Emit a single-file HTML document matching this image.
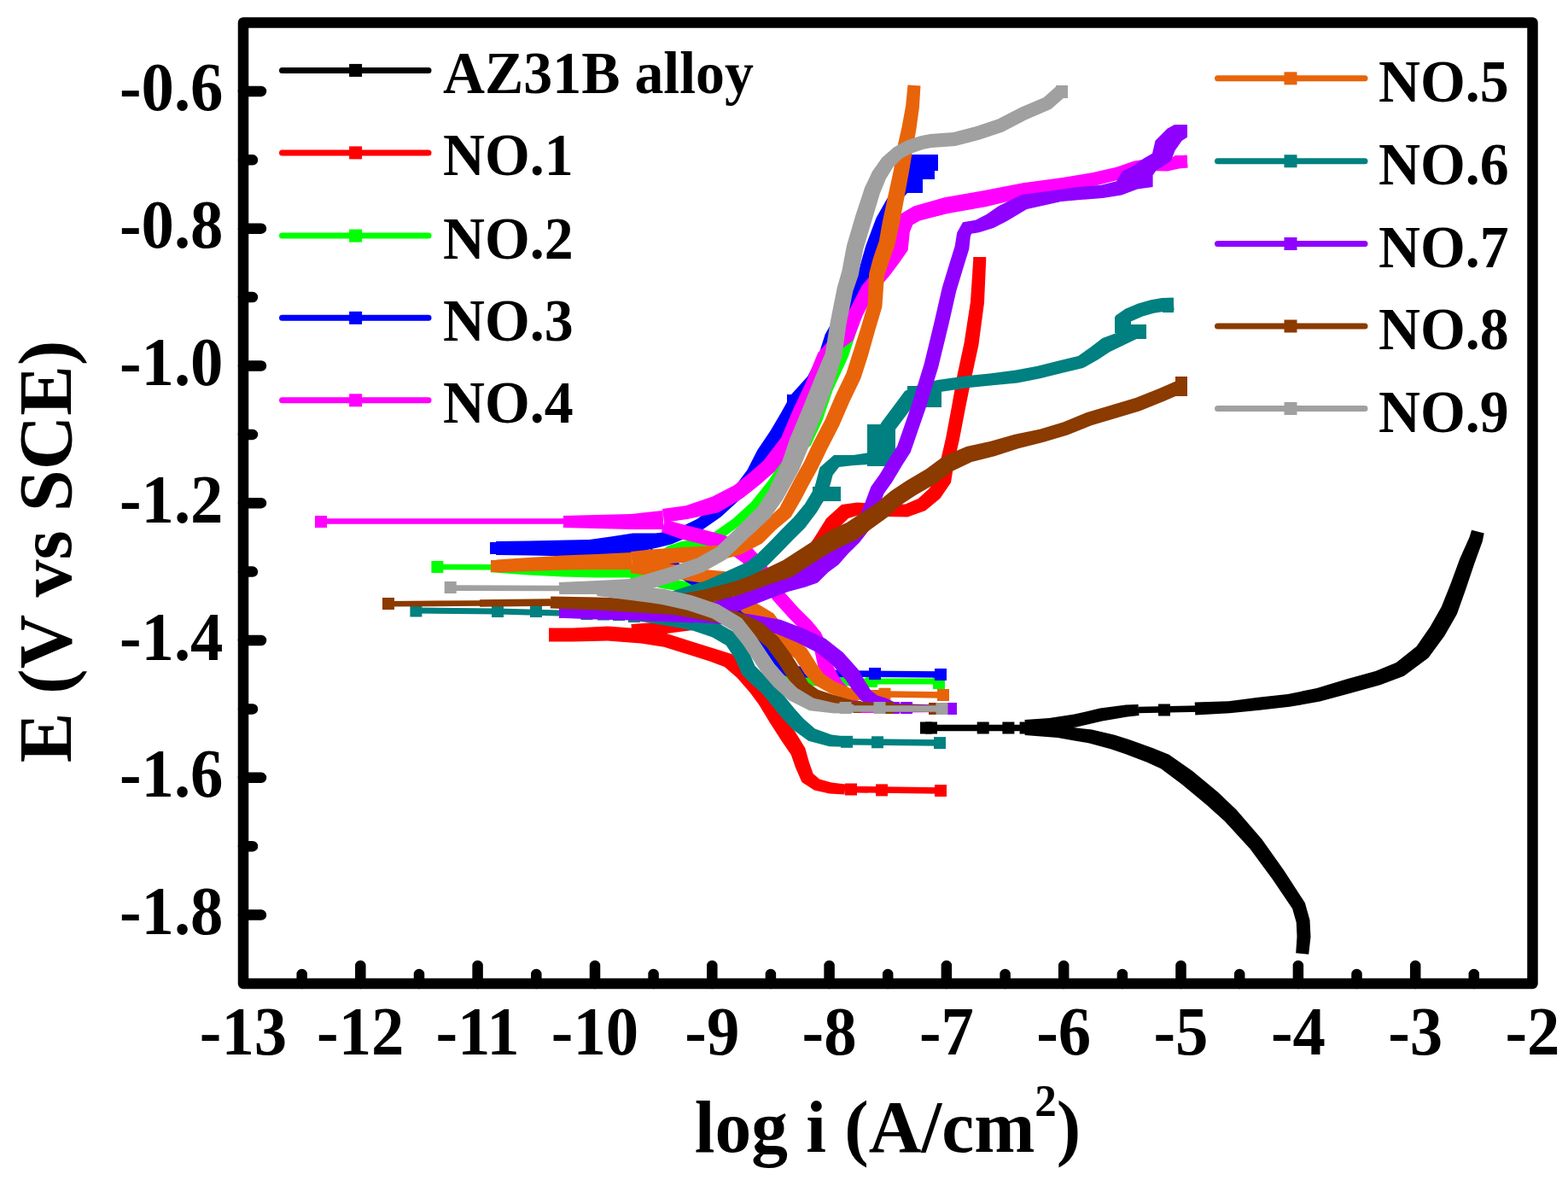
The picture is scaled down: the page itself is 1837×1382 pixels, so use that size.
<!DOCTYPE html>
<html><head><meta charset="utf-8"><title>Tafel plot</title>
<style>html,body{margin:0;padding:0;background:#fff;} svg{display:block;}</style>
</head><body>
<svg width="1837" height="1382" viewBox="0 0 1837 1382">
<rect x="0" y="0" width="1837" height="1382" fill="#fff"/>
<path d="M1085.0,852.5 L1211.0,852.5" fill="none" stroke="#000000" stroke-width="7.5" stroke-linejoin="round"/>
<rect x="1078.0" y="845.5" width="14" height="14" fill="#000000"/>
<rect x="1084.0" y="845.5" width="14" height="14" fill="#000000"/>
<rect x="1144.7" y="845.5" width="14" height="14" fill="#000000"/>
<rect x="1174.4" y="845.5" width="14" height="14" fill="#000000"/>
<rect x="1194.6" y="845.5" width="14" height="14" fill="#000000"/>
<path d="M1201.5,857.0 L1230.7,855.0 L1261.4,851.4 L1291.4,844.4 L1320.8,839.5 L1334.5,838.0 L1333.5,825.0 L1319.2,825.5 L1288.6,829.6 L1258.6,836.6 L1229.3,841.0 L1200.5,843.0 Z" fill="#000000"/>
<path d="M1334.0,831.5 L1406.0,830.0" fill="none" stroke="#000000" stroke-width="7.5" stroke-linejoin="round"/>
<rect x="1357.0" y="824.5" width="14" height="14" fill="#000000"/>
<path d="M1400.3,837.5 L1440.6,835.2 L1475.6,831.7 L1510.8,827.8 L1546.4,821.6 L1581.7,812.0 L1616.9,802.3 L1644.8,791.7 L1673.4,770.5 L1692.3,744.8 L1706.9,719.3 L1717.2,690.3 L1727.1,660.7 L1736.8,633.9 L1738.7,624.4 L1724.1,620.8 L1721.6,628.9 L1710.3,654.3 L1699.4,683.9 L1688.7,710.7 L1675.5,734.0 L1659.6,757.1 L1635.8,775.9 L1611.5,786.1 L1577.1,795.6 L1542.6,806.0 L1508.6,813.0 L1474.0,816.7 L1439.4,821.2 L1399.7,822.5 Z" fill="#000000"/>
<path d="M1200.6,861.0 L1239.1,864.0 L1258.8,867.4 L1276.2,870.4 L1301.1,877.2 L1318.1,883.0 L1343.7,892.8 L1360.1,900.3 L1384.5,918.5 L1413.4,942.5 L1434.8,961.7 L1464.4,994.1 L1490.6,1029.5 L1514.1,1064.2 L1518.7,1080.2 L1519.5,1096.8 L1518.2,1116.3 L1533.2,1117.7 L1535.5,1097.2 L1534.5,1077.6 L1528.9,1057.4 L1504.6,1019.9 L1478.4,982.9 L1448.4,948.3 L1426.6,927.5 L1396.7,902.7 L1369.5,883.7 L1350.3,876.0 L1323.9,866.4 L1305.9,860.8 L1279.2,854.6 L1261.2,852.6 L1240.9,849.0 L1201.4,847.0 Z" fill="#000000"/>
<path d="M643.0,751.5 L671.1,751.5 L711.8,750.5 L750.9,753.4 L778.1,757.8 L804.6,766.1 L831.5,774.6 L848.8,781.0 L863.3,793.6 L878.6,811.0 L889.1,825.3 L902.0,846.6 L916.0,868.2 L926.8,883.9 L932.0,898.9 L939.4,916.1 L954.0,925.5 L971.9,929.4 L989.5,930.5 L990.5,918.5 L974.1,916.6 L960.0,912.5 L952.6,905.9 L948.0,893.1 L943.2,876.1 L932.0,857.8 L918.0,836.4 L904.9,814.7 L893.4,799.0 L875.7,780.4 L857.2,766.0 L836.5,759.4 L809.4,750.9 L781.9,742.2 L753.1,736.6 L712.2,733.5 L670.9,735.5 L643.0,735.5 Z" fill="#ff0000"/>
<path d="M990.0,924.5 L1102.0,926.0" fill="none" stroke="#ff0000" stroke-width="7.5" stroke-linejoin="round"/>
<rect x="990.0" y="917.5" width="14" height="14" fill="#ff0000"/>
<rect x="1026.0" y="918.4" width="14" height="14" fill="#ff0000"/>
<rect x="1095.0" y="919.0" width="14" height="14" fill="#ff0000"/>
<path d="M740.5,745.0 L780.7,742.0 L811.5,737.9 L843.0,728.9 L873.8,711.5 L891.5,700.7 L923.9,686.5 L943.8,671.7 L956.5,654.7 L969.0,637.8 L981.9,618.8 L994.0,606.9 L1005.5,603.5 L1035.8,605.0 L1063.4,605.5 L1084.2,598.0 L1101.4,583.7 L1114.0,565.3 L1117.8,541.6 L1123.8,515.6 L1130.9,478.5 L1138.3,441.7 L1146.4,404.5 L1153.0,354.8 L1155.2,305.2 L1155.2,301.0 L1140.2,301.0 L1140.2,304.8 L1137.0,353.2 L1129.6,401.5 L1121.7,438.3 L1115.1,475.5 L1108.2,512.4 L1102.2,538.4 L1098.0,558.7 L1088.6,572.3 L1075.8,584.0 L1060.6,590.5 L1036.2,591.0 L1004.5,588.5 L986.0,591.1 L968.1,607.2 L955.0,628.2 L943.5,645.3 L932.2,660.3 L916.1,673.5 L884.5,687.3 L866.2,698.5 L837.0,715.1 L808.5,724.1 L779.3,728.0 L739.5,731.0 Z" fill="#ff0000"/>
<path d="M512.0,664.0 L575.0,664.3" fill="none" stroke="#00ff00" stroke-width="6.6" stroke-linejoin="round"/>
<rect x="505.4" y="657.0" width="14" height="14" fill="#00ff00"/>
<path d="M574.6,670.3 L619.6,673.5 L659.8,675.5 L699.9,676.5 L740.3,676.5 L770.6,673.5 L769.4,660.5 L739.7,663.5 L700.1,663.5 L660.2,662.5 L620.4,660.5 L575.4,658.3 Z" fill="#00ff00"/>
<path d="M768.6,664.8 L787.8,650.4 L801.3,645.9 L825.9,642.8 L843.2,633.1 L865.5,616.3 L888.0,595.8 L908.4,570.3 L923.5,548.2 L934.4,534.2 L949.8,521.8 L963.6,492.2 L975.6,457.2 L993.6,418.2 L1005.7,381.8 L1017.8,341.7 L1030.8,296.7 L1019.2,293.3 L1006.2,338.3 L994.3,378.2 L982.4,413.8 L964.4,452.8 L952.4,487.8 L940.2,514.2 L925.6,525.8 L914.5,541.8 L899.6,563.7 L880.0,588.2 L858.5,607.7 L836.8,622.9 L822.1,631.2 L798.7,634.1 L782.2,639.6 L761.4,655.2 Z" fill="#00ff00"/>
<path d="M738.1,678.2 L774.7,688.9 L807.7,693.9 L837.3,702.5 L860.6,719.2 L879.9,748.1 L894.8,775.0 L905.4,792.9 L923.2,802.4 L959.8,803.5 L1004.9,803.5 L1005.1,793.5 L960.2,791.5 L926.8,789.6 L914.6,783.1 L905.2,769.0 L890.1,741.9 L869.4,710.8 L842.7,691.5 L810.3,682.1 L777.3,677.1 L741.9,665.8 Z" fill="#00ff00"/>
<path d="M1005.0,798.0 L1100.0,798.0" fill="none" stroke="#00ff00" stroke-width="7" stroke-linejoin="round"/>
<rect x="1014.0" y="791.0" width="14" height="14" fill="#00ff00"/>
<rect x="1093.0" y="793.0" width="14" height="14" fill="#00ff00"/>
<rect x="574.0" y="635.0" width="14" height="14" fill="#0000ff"/>
<path d="M581.0,650.0 L620.0,650.5 L664.8,651.5 L691.4,654.0 L718.5,651.4 L744.5,647.4 L770.3,641.4 L787.1,637.2 L802.9,630.4 L823.6,620.0 L844.4,605.5 L867.1,584.8 L888.6,559.5 L902.6,536.9 L919.4,515.5 L932.7,493.0 L943.4,473.5 L959.8,449.3 L973.4,423.1 L981.4,398.2 L991.9,379.0 L1004.1,358.8 L1017.6,327.5 L1027.7,292.2 L1039.4,261.0 L1051.9,238.7 L1065.0,223.7 L1077.2,211.9 L1087.1,202.1 L1072.9,187.9 L1062.8,198.1 L1051.0,212.3 L1040.1,231.3 L1026.6,255.0 L1014.3,287.8 L1004.4,322.5 L989.9,351.2 L978.1,371.0 L966.6,391.8 L958.6,416.9 L946.2,440.7 L926.6,462.5 L915.3,483.0 L902.6,504.5 L887.4,527.1 L875.4,550.5 L856.9,575.2 L835.6,594.5 L816.4,608.0 L797.1,617.6 L782.9,622.8 L767.7,624.6 L741.5,624.6 L715.5,628.6 L690.6,632.0 L665.2,632.5 L620.0,633.5 L581.0,634.0 Z" fill="#0000ff"/>
<rect x="1066" y="181" width="33" height="19" fill="#0000ff"/>
<rect x="1062" y="197" width="33" height="13" fill="#0000ff"/>
<rect x="1057" y="208" width="24" height="18" fill="#0000ff"/>
<rect x="922" y="462" width="19" height="12" fill="#0000ff"/>
<path d="M757.8,653.6 L781.7,663.2 L796.4,676.8 L812.0,686.2 L836.7,700.1 L853.8,713.8 L866.0,733.6 L878.4,756.6 L894.5,775.8 L907.7,785.8 L923.0,792.9 L959.8,794.0 L990.0,793.0 L990.0,785.0 L960.2,784.0 L927.0,779.1 L916.3,772.2 L905.5,764.2 L891.6,747.4 L878.0,726.4 L864.2,704.2 L843.3,689.9 L818.0,675.8 L803.6,667.2 L788.3,652.8 L762.2,642.4 Z" fill="#0000ff"/>
<path d="M990.0,789.0 L1102.0,790.0" fill="none" stroke="#0000ff" stroke-width="7.5" stroke-linejoin="round"/>
<rect x="1018.0" y="782.0" width="14" height="14" fill="#0000ff"/>
<rect x="1095.0" y="783.0" width="14" height="14" fill="#0000ff"/>
<rect x="369.0" y="604.0" width="14" height="14" fill="#ff00ff"/>
<path d="M382.0,610.5 L660.0,610.5" fill="none" stroke="#ff00ff" stroke-width="6.6" stroke-linejoin="round"/>
<path d="M660.0,618.0 L700.0,619.0 L740.2,620.0 L777.6,620.0 L776.4,598.0 L739.8,602.0 L700.0,603.0 L660.0,604.0 Z" fill="#ff00ff"/>
<path d="M778.1,611.9 L806.6,607.8 L841.8,600.3 L870.0,583.5 L890.8,566.9 L907.6,552.2 L930.8,521.5 L945.2,487.7 L960.2,455.6 L973.8,422.8 L986.2,408.6 L999.4,398.7 L1010.7,369.6 L1024.1,343.8 L1042.7,322.3 L1054.0,306.9 L1063.7,293.1 L1065.8,272.1 L1069.3,263.2 L1077.5,258.4 L1110.7,249.9 L1155.8,241.9 L1201.5,231.0 L1247.2,223.9 L1282.6,217.8 L1312.1,210.2 L1332.0,203.3 L1345.7,200.0 L1367.9,200.5 L1381.2,197.4 L1391.7,196.5 L1390.3,181.5 L1378.8,182.6 L1366.1,185.5 L1344.3,186.0 L1328.0,188.7 L1307.9,195.8 L1279.4,202.2 L1244.8,208.1 L1198.5,214.2 L1152.2,223.3 L1106.5,231.3 L1070.5,241.6 L1054.7,250.8 L1048.2,267.9 L1046.3,286.9 L1040.0,297.1 L1029.3,311.7 L1009.9,334.2 L995.3,362.4 L984.6,387.3 L973.8,395.4 L958.2,413.2 L943.8,448.4 L928.8,480.3 L915.2,512.5 L894.4,539.8 L879.2,553.1 L860.0,568.5 L834.2,581.7 L803.4,592.2 L775.9,596.1 Z" fill="#ff00ff"/>
<rect x="1376" y="182" width="15" height="14" fill="#ff00ff"/>
<path d="M774.8,623.2 L797.7,631.2 L817.9,636.2 L840.3,642.1 L855.9,649.1 L868.8,657.9 L880.1,667.9 L893.4,684.6 L905.7,702.9 L924.2,723.5 L939.1,738.4 L948.2,749.3 L954.4,762.6 L958.4,780.9 L968.6,797.9 L975.2,807.8 L984.8,816.7 L996.0,828.6 L1008.6,835.0 L1103.0,834.0 L1103.0,826.0 L1011.4,825.0 L1004.0,819.4 L995.2,807.3 L986.8,798.2 L981.4,790.1 L973.6,775.1 L969.6,757.4 L961.8,740.7 L950.9,727.6 L935.8,712.5 L918.3,693.1 L906.6,675.4 L893.9,656.1 L881.2,642.1 L864.1,632.9 L845.7,625.9 L822.1,619.8 L802.3,614.8 L779.2,608.8 Z" fill="#ff00ff"/>
<rect x="575.0" y="656.0" width="14" height="14" fill="#e8640a"/>
<path d="M582.4,670.5 L620.4,669.0 L660.3,667.5 L700.2,667.0 L740.2,667.0 L739.8,647.0 L699.8,649.0 L659.7,650.5 L619.6,653.0 L581.6,655.5 Z" fill="#e8640a"/>
<path d="M740.9,664.0 L770.7,661.0 L800.6,659.0 L830.7,656.5 L851.4,653.9 L867.9,649.5 L892.8,636.5 L908.5,620.8 L926.7,605.4 L937.9,586.3 L947.9,567.3 L958.0,549.1 L969.1,526.0 L983.1,498.8 L995.2,470.7 L1008.4,443.3 L1016.6,417.7 L1025.1,387.4 L1033.4,359.5 L1035.9,323.5 L1041.0,307.9 L1048.2,287.5 L1053.8,262.0 L1059.3,231.9 L1064.9,201.6 L1069.9,171.6 L1073.4,151.5 L1076.9,126.0 L1078.5,100.6 L1063.5,99.4 L1061.1,124.0 L1056.6,148.5 L1052.1,168.4 L1047.1,198.4 L1040.7,228.1 L1034.2,258.0 L1029.8,282.5 L1023.0,302.1 L1018.1,320.5 L1016.6,356.5 L1008.9,382.6 L999.4,412.3 L991.6,436.7 L978.8,463.3 L966.9,491.2 L952.9,518.0 L942.0,540.9 L932.1,558.7 L922.1,577.7 L913.3,594.6 L897.5,609.2 L883.2,623.5 L862.1,634.5 L848.6,638.1 L829.3,639.5 L799.4,641.0 L769.3,643.0 L739.1,646.0 Z" fill="#e8640a"/>
<path d="M738.5,670.9 L768.7,675.9 L798.8,678.9 L824.0,682.9 L842.5,684.7 L854.0,695.4 L868.9,716.8 L893.9,731.8 L912.5,756.4 L931.2,771.1 L942.7,789.3 L954.7,802.2 L971.7,811.7 L992.4,819.5 L1012.9,820.0 L1038.2,818.0 L1037.8,808.0 L1013.1,808.0 L995.6,805.7 L978.3,798.3 L965.3,789.8 L957.3,778.7 L944.8,758.9 L925.5,743.6 L906.1,718.2 L881.1,703.2 L866.0,684.6 L849.5,669.3 L826.0,667.1 L801.2,663.1 L771.3,658.1 L741.5,653.1 Z" fill="#e8640a"/>
<path d="M1038.0,813.0 L1105.0,814.0" fill="none" stroke="#e8640a" stroke-width="7.5" stroke-linejoin="round"/>
<rect x="1029.5" y="805.7" width="14" height="14" fill="#e8640a"/>
<rect x="1098.0" y="807.0" width="14" height="14" fill="#e8640a"/>
<rect x="480.4" y="708.5" width="14" height="14" fill="#008080"/>
<rect x="576.0" y="709.0" width="14" height="14" fill="#008080"/>
<rect x="621.0" y="709.0" width="14" height="14" fill="#008080"/>
<rect x="680.5" y="712.0" width="14" height="14" fill="#008080"/>
<rect x="700.0" y="712.5" width="14" height="14" fill="#008080"/>
<rect x="718.0" y="713.0" width="14" height="14" fill="#008080"/>
<rect x="736.0" y="715.0" width="14" height="14" fill="#008080"/>
<path d="M487.0,715.0 L583.0,716.0 L690.0,719.0 L745.0,722.0" fill="none" stroke="#008080" stroke-width="7" stroke-linejoin="round"/>
<path d="M744.4,727.0 L794.0,734.9 L812.2,738.8 L834.4,746.3 L850.7,755.7 L861.1,771.4 L869.5,790.2 L880.8,801.6 L893.0,812.3 L906.0,828.2 L917.2,841.9 L928.9,854.6 L947.2,867.8 L971.7,874.3 L991.6,874.8 L992.4,862.8 L974.3,860.5 L954.8,853.4 L941.1,841.4 L930.8,830.1 L920.0,816.8 L906.0,799.7 L893.2,788.4 L884.5,779.8 L876.9,762.6 L863.3,742.3 L841.6,729.7 L815.8,723.2 L796.0,721.1 L745.6,717.0 Z" fill="#008080"/>
<path d="M992.0,868.8 L1101.0,870.1" fill="none" stroke="#008080" stroke-width="7.5" stroke-linejoin="round"/>
<rect x="985.0" y="861.8" width="14" height="14" fill="#008080"/>
<rect x="1021.0" y="862.3" width="14" height="14" fill="#008080"/>
<rect x="1094.0" y="863.1" width="14" height="14" fill="#008080"/>
<path d="M792.3,707.7 L832.9,696.0 L863.6,683.2 L884.7,673.8 L900.0,661.7 L914.4,647.3 L928.9,632.3 L943.3,618.0 L957.0,599.8 L969.9,578.3 L975.6,556.4 L983.0,546.9 L1000.4,545.0 L1024.2,543.6 L1037.9,524.3 L1047.7,504.8 L1062.2,485.4 L1072.0,472.1 L1083.0,465.5 L1101.5,458.9 L1135.5,454.0 L1160.7,451.5 L1192.1,448.4 L1218.6,443.3 L1246.8,436.3 L1268.9,431.0 L1286.7,421.1 L1300.4,411.9 L1318.0,403.4 L1332.6,396.5 L1327.4,383.5 L1312.0,388.6 L1291.6,396.1 L1277.3,406.9 L1263.1,417.0 L1243.2,421.7 L1215.4,428.7 L1189.9,433.6 L1159.3,437.5 L1133.9,440.0 L1098.5,445.1 L1077.0,450.5 L1060.0,457.9 L1047.8,474.6 L1032.3,495.2 L1022.1,515.7 L1015.8,530.4 L999.6,533.0 L977.0,533.1 L960.4,547.6 L954.1,571.7 L943.0,590.2 L929.9,606.0 L916.1,619.7 L901.6,634.7 L888.0,648.3 L875.3,658.2 L856.4,666.8 L827.1,680.0 L787.7,692.3 Z" fill="#008080"/>
<rect x="1320" y="380" width="23" height="17" fill="#008080"/>
<rect x="1306" y="371" width="19" height="19" fill="#008080"/>
<path d="M1313.5,382.0 L1325.6,376.2 L1338.7,370.6 L1351.8,366.8 L1363.0,364.9 L1375.6,363.5 L1374.4,348.5 L1361.0,349.1 L1348.2,351.2 L1333.3,355.4 L1318.4,361.8 L1306.5,370.0 Z" fill="#008080"/>
<rect x="1362" y="349" width="13" height="17" fill="#008080"/>
<rect x="1016" y="497" width="33" height="49" fill="#008080"/>
<rect x="1063" y="452" width="40" height="25" fill="#008080"/>
<rect x="952" y="570" width="33" height="17" fill="#008080"/>
<rect x="655.0" y="710.0" width="14" height="14" fill="#8f00ff"/>
<path d="M661.8,724.0 L699.8,725.5 L739.8,726.5 L789.7,728.5 L813.7,729.5 L814.3,714.5 L790.3,713.5 L740.2,711.5 L700.2,710.5 L662.2,710.0 Z" fill="#8f00ff"/>
<path d="M815.6,724.8 L841.7,719.8 L865.7,715.6 L883.4,708.3 L903.3,700.4 L923.3,692.9 L943.6,687.4 L957.9,682.6 L970.2,670.3 L982.4,661.2 L993.5,648.4 L1007.2,634.9 L1019.7,618.8 L1026.9,601.2 L1035.6,578.0 L1045.1,564.7 L1057.2,544.5 L1066.7,529.7 L1076.0,502.8 L1084.1,479.6 L1099.2,430.2 L1111.3,380.4 L1120.2,341.2 L1128.6,313.5 L1135.3,291.8 L1136.8,277.4 L1138.0,273.8 L1147.0,272.3 L1164.0,267.1 L1180.0,258.7 L1203.0,245.1 L1241.2,236.4 L1238.8,222.6 L1197.0,227.9 L1170.0,241.3 L1156.0,250.9 L1143.0,257.7 L1128.0,260.2 L1121.2,272.6 L1118.7,288.2 L1112.4,308.5 L1103.8,336.8 L1094.7,376.6 L1082.8,425.8 L1067.9,474.4 L1060.0,497.2 L1051.3,522.3 L1042.8,535.5 L1030.9,555.3 L1020.4,570.0 L1011.1,594.8 L1004.3,609.2 L992.8,621.1 L978.5,633.6 L967.6,644.8 L955.8,653.7 L946.1,663.4 L936.4,666.6 L916.7,675.1 L896.7,683.6 L876.6,691.7 L860.3,698.4 L838.3,704.2 L812.4,711.2 Z" fill="#8f00ff"/>
<path d="M1238.0,222.6 L1263.0,219.0 L1290.0,216.8 L1308.0,212.2 L1315.0,200.6 L1327.0,194.8 L1340.0,185.6 L1350.0,179.8 L1353.5,164.7 L1367.4,150.8 L1376.0,145.9 L1391.0,145.9 L1391.0,160.7 L1384.7,164.7 L1376.6,176.3 L1372.0,188.0 L1367.4,191.4 L1354.6,199.5 L1350.6,205.3 L1350.6,219.0 L1332.6,221.5 L1314.0,228.4 L1292.0,232.0 L1263.0,234.2 L1238.0,236.5 Z" fill="#8f00ff"/>
<path d="M813.8,729.0 L837.5,730.2 L873.8,734.9 L909.6,742.2 L933.4,752.2 L956.9,764.1 L974.5,777.9 L990.4,795.7 L998.6,808.1 L1009.5,821.1 L1022.3,827.6 L1036.2,829.7 L1049.0,834.0 L1112.9,834.0 L1113.1,826.0 L1051.0,824.0 L1039.8,818.3 L1027.7,814.4 L1020.5,808.9 L1013.4,797.9 L1005.6,784.3 L987.5,764.1 L967.1,747.9 L940.6,735.8 L914.4,725.8 L876.2,719.1 L838.5,715.2 L814.2,715.0 Z" fill="#8f00ff"/>
<rect x="1040.0" y="822.0" width="14" height="14" fill="#8f00ff"/>
<rect x="1055.0" y="822.0" width="14" height="14" fill="#8f00ff"/>
<rect x="1107.0" y="823.0" width="14" height="14" fill="#8f00ff"/>
<rect x="448.0" y="700.0" width="14" height="14" fill="#8b3a00"/>
<path d="M455.0,707.3 L562.0,706.5" fill="none" stroke="#8b3a00" stroke-width="6.6" stroke-linejoin="round"/>
<path d="M562.0,706.5 L645.0,705.5" fill="none" stroke="#8b3a00" stroke-width="8.5" stroke-linejoin="round"/>
<path d="M644.8,712.5 L699.7,714.5 L739.6,717.0 L788.1,720.0 L824.7,726.3 L860.4,732.8 L882.9,744.5 L898.3,758.1 L911.6,776.1 L923.4,794.8 L934.9,812.2 L953.1,822.0 L973.4,826.3 L999.1,831.9 L1039.8,833.5 L1094.9,834.0 L1095.1,826.0 L1040.2,824.5 L1000.9,820.9 L976.6,813.7 L958.9,808.0 L947.1,799.8 L938.6,785.2 L926.4,765.9 L911.7,745.9 L893.1,729.5 L865.6,716.4 L827.3,710.5 L789.9,704.0 L740.4,701.0 L700.3,699.5 L645.2,698.5 Z" fill="#8b3a00"/>
<path d="M791.3,712.9 L827.8,707.3 L865.5,697.1 L883.0,691.0 L903.5,683.8 L927.6,675.8 L951.7,660.3 L968.7,649.4 L985.8,640.2 L1003.8,632.0 L1021.3,619.0 L1039.0,606.3 L1056.0,591.0 L1072.7,580.1 L1096.0,566.4 L1115.9,551.7 L1138.5,541.0 L1165.3,534.2 L1193.2,525.2 L1222.0,518.1 L1250.7,509.6 L1278.7,498.2 L1307.3,489.7 L1335.7,481.2 L1364.1,469.7 L1387.2,459.7 L1380.8,445.1 L1357.9,454.9 L1330.3,466.0 L1302.7,474.3 L1273.3,483.0 L1245.3,494.4 L1218.0,502.7 L1188.8,508.8 L1160.7,516.8 L1132.3,523.0 L1105.7,534.3 L1085.0,549.6 L1062.1,563.1 L1044.0,575.0 L1026.2,589.7 L1008.7,601.0 L992.2,612.0 L975.2,619.8 L957.3,630.6 L939.9,641.7 L917.4,656.2 L896.5,666.2 L877.0,675.0 L860.5,680.9 L824.2,690.7 L788.7,697.1 Z" fill="#8b3a00"/>
<rect x="1377" y="441" width="14" height="23" fill="#8b3a00"/>
<rect x="974.0" y="821.0" width="14" height="14" fill="#8b3a00"/>
<rect x="995.0" y="821.0" width="14" height="14" fill="#8b3a00"/>
<rect x="1033.0" y="822.0" width="14" height="14" fill="#8b3a00"/>
<rect x="1088.0" y="823.0" width="14" height="14" fill="#8b3a00"/>
<rect x="520.7" y="681.0" width="14" height="14" fill="#a0a0a0"/>
<path d="M528.0,688.6 L655.0,689.0" fill="none" stroke="#a0a0a0" stroke-width="6.6" stroke-linejoin="round"/>
<path d="M655.2,696.0 L700.1,696.0 L741.7,698.0 L762.8,689.6 L792.7,680.6 L823.7,670.3 L850.4,655.3 L876.2,630.5 L902.3,606.2 L917.1,585.1 L936.1,550.5 L948.2,521.4 L963.1,485.5 L976.8,449.0 L986.2,418.5 L991.4,380.6 L999.2,341.4 L1005.7,322.4 L1011.3,292.3 L1021.1,259.4 L1030.9,226.4 L1037.9,209.4 L1046.5,195.6 L1056.7,185.6 L1068.2,179.4 L1082.0,174.8 L1091.5,172.9 L1119.3,170.9 L1147.3,163.7 L1175.1,154.4 L1202.4,140.2 L1231.3,127.8 L1249.3,112.0 L1238.7,100.0 L1222.7,114.2 L1195.6,125.8 L1168.9,139.6 L1142.7,148.3 L1116.7,155.1 L1089.5,157.1 L1078.0,159.2 L1061.8,164.6 L1047.3,172.4 L1033.5,184.4 L1022.1,200.6 L1013.1,219.6 L1001.9,253.6 L991.9,287.7 L986.3,317.6 L980.8,336.6 L972.6,377.4 L966.8,413.5 L955.2,441.0 L940.9,476.5 L925.8,512.6 L915.9,541.5 L899.9,574.9 L887.7,593.8 L863.8,617.5 L839.6,640.7 L816.3,653.7 L787.3,663.4 L757.2,672.4 L738.3,678.0 L699.9,680.0 L654.8,682.0 Z" fill="#a0a0a0"/>
<rect x="1237" y="100" width="14" height="15" fill="#a0a0a0"/>
<path d="M699.2,698.0 L738.9,702.9 L775.4,707.9 L805.6,714.7 L834.2,724.2 L857.0,737.9 L870.7,755.3 L882.5,773.0 L892.8,788.5 L906.5,804.2 L924.0,819.9 L948.5,832.2 L977.4,835.5 L999.9,835.0 L1000.1,825.0 L978.6,823.5 L953.5,817.8 L934.0,806.1 L919.5,791.8 L907.2,777.5 L897.5,763.0 L885.3,744.7 L869.0,724.1 L841.8,707.8 L810.4,697.3 L778.6,690.1 L741.1,685.1 L700.8,682.0 Z" fill="#a0a0a0"/>
<path d="M1000.0,830.0 L1103.5,830.0" fill="none" stroke="#a0a0a0" stroke-width="7.5" stroke-linejoin="round"/>
<rect x="983.5" y="822.0" width="14" height="14" fill="#a0a0a0"/>
<rect x="1023.5" y="822.0" width="14" height="14" fill="#a0a0a0"/>
<rect x="1096.5" y="823.0" width="14" height="14" fill="#a0a0a0"/>
<rect x="285.0" y="26.5" width="1510.5" height="1125.5" fill="none" stroke="#000" stroke-width="12.5" stroke-linejoin="round"/>
<path d="M353.7,1152.0 V1141.0 M422.3,1152.0 V1131.0 M491.0,1152.0 V1141.0 M559.6,1152.0 V1131.0 M628.3,1152.0 V1141.0 M697.0,1152.0 V1131.0 M765.6,1152.0 V1141.0 M834.3,1152.0 V1131.0 M902.9,1152.0 V1141.0 M971.6,1152.0 V1131.0 M1040.2,1152.0 V1141.0 M1108.9,1152.0 V1131.0 M1177.6,1152.0 V1141.0 M1246.2,1152.0 V1131.0 M1314.9,1152.0 V1141.0 M1383.5,1152.0 V1131.0 M1452.2,1152.0 V1141.0 M1520.9,1152.0 V1131.0 M1589.5,1152.0 V1141.0 M1658.2,1152.0 V1131.0 M1726.8,1152.0 V1141.0 M285.0,1071.6 H306.0 M285.0,991.2 H296.0 M285.0,910.8 H306.0 M285.0,830.4 H296.0 M285.0,750.0 H306.0 M285.0,669.6 H296.0 M285.0,589.2 H306.0 M285.0,508.9 H296.0 M285.0,428.5 H306.0 M285.0,348.1 H296.0 M285.0,267.7 H306.0 M285.0,187.3 H296.0 M285.0,106.9 H306.0" stroke="#000" stroke-width="12.5" stroke-linecap="round" fill="none"/>
<text transform="translate(285.0,1235) scale(0.96,1)" font-family='"Liberation Serif", "Times New Roman", serif' font-weight="bold" font-size="80" text-anchor="middle">-13</text>
<text transform="translate(422.3,1235) scale(0.96,1)" font-family='"Liberation Serif", "Times New Roman", serif' font-weight="bold" font-size="80" text-anchor="middle">-12</text>
<text transform="translate(559.6,1235) scale(0.96,1)" font-family='"Liberation Serif", "Times New Roman", serif' font-weight="bold" font-size="80" text-anchor="middle">-11</text>
<text transform="translate(697.0,1235) scale(0.96,1)" font-family='"Liberation Serif", "Times New Roman", serif' font-weight="bold" font-size="80" text-anchor="middle">-10</text>
<text transform="translate(834.3,1235) scale(0.96,1)" font-family='"Liberation Serif", "Times New Roman", serif' font-weight="bold" font-size="80" text-anchor="middle">-9</text>
<text transform="translate(971.6,1235) scale(0.96,1)" font-family='"Liberation Serif", "Times New Roman", serif' font-weight="bold" font-size="80" text-anchor="middle">-8</text>
<text transform="translate(1108.9,1235) scale(0.96,1)" font-family='"Liberation Serif", "Times New Roman", serif' font-weight="bold" font-size="80" text-anchor="middle">-7</text>
<text transform="translate(1246.2,1235) scale(0.96,1)" font-family='"Liberation Serif", "Times New Roman", serif' font-weight="bold" font-size="80" text-anchor="middle">-6</text>
<text transform="translate(1383.5,1235) scale(0.96,1)" font-family='"Liberation Serif", "Times New Roman", serif' font-weight="bold" font-size="80" text-anchor="middle">-5</text>
<text transform="translate(1520.9,1235) scale(0.96,1)" font-family='"Liberation Serif", "Times New Roman", serif' font-weight="bold" font-size="80" text-anchor="middle">-4</text>
<text transform="translate(1658.2,1235) scale(0.96,1)" font-family='"Liberation Serif", "Times New Roman", serif' font-weight="bold" font-size="80" text-anchor="middle">-3</text>
<text transform="translate(1795.5,1235) scale(0.96,1)" font-family='"Liberation Serif", "Times New Roman", serif' font-weight="bold" font-size="80" text-anchor="middle">-2</text>
<text transform="translate(261.5,129.4) scale(0.96,1)" font-family='"Liberation Serif", "Times New Roman", serif' font-weight="bold" font-size="80" text-anchor="end">-0.6</text>
<text transform="translate(261.5,290.2) scale(0.96,1)" font-family='"Liberation Serif", "Times New Roman", serif' font-weight="bold" font-size="80" text-anchor="end">-0.8</text>
<text transform="translate(261.5,451.0) scale(0.96,1)" font-family='"Liberation Serif", "Times New Roman", serif' font-weight="bold" font-size="80" text-anchor="end">-1.0</text>
<text transform="translate(261.5,611.8) scale(0.96,1)" font-family='"Liberation Serif", "Times New Roman", serif' font-weight="bold" font-size="80" text-anchor="end">-1.2</text>
<text transform="translate(261.5,772.5) scale(0.96,1)" font-family='"Liberation Serif", "Times New Roman", serif' font-weight="bold" font-size="80" text-anchor="end">-1.4</text>
<text transform="translate(261.5,933.3) scale(0.96,1)" font-family='"Liberation Serif", "Times New Roman", serif' font-weight="bold" font-size="80" text-anchor="end">-1.6</text>
<text transform="translate(261.5,1094.1) scale(0.96,1)" font-family='"Liberation Serif", "Times New Roman", serif' font-weight="bold" font-size="80" text-anchor="end">-1.8</text>
<text transform="translate(1040,1349) scale(0.982,1)" font-family='"Liberation Serif", "Times New Roman", serif' font-weight="bold" font-size="87" text-anchor="middle">log i (A/cm<tspan dy="-42" font-size="52">2</tspan><tspan dy="42">)</tspan></text>
<text transform="translate(82.5,646) rotate(-90)" x="0" y="0" font-family='"Liberation Serif", "Times New Roman", serif' font-weight="bold" font-size="88" text-anchor="middle">E (V vs SCE)</text>
<path d="M330.5,82.4 H502" stroke="#000000" stroke-width="7" stroke-linecap="round"/>
<rect x="409.1" y="74.9" width="15" height="15" fill="#000000"/>
<text transform="translate(519,108.8) scale(0.97,1)" font-family='"Liberation Serif", "Times New Roman", serif' font-weight="bold" font-size="70">AZ31B alloy</text>
<path d="M330.5,178.9 H502" stroke="#ff0000" stroke-width="7" stroke-linecap="round"/>
<rect x="409.1" y="171.4" width="15" height="15" fill="#ff0000"/>
<text transform="translate(519,205.3) scale(0.97,1)" font-family='"Liberation Serif", "Times New Roman", serif' font-weight="bold" font-size="70">NO.1</text>
<path d="M330.5,276.1 H502" stroke="#00ff00" stroke-width="7" stroke-linecap="round"/>
<rect x="409.1" y="268.6" width="15" height="15" fill="#00ff00"/>
<text transform="translate(519,302.5) scale(0.97,1)" font-family='"Liberation Serif", "Times New Roman", serif' font-weight="bold" font-size="70">NO.2</text>
<path d="M330.5,372.3 H502" stroke="#0000ff" stroke-width="7" stroke-linecap="round"/>
<rect x="409.1" y="364.8" width="15" height="15" fill="#0000ff"/>
<text transform="translate(519,398.7) scale(0.97,1)" font-family='"Liberation Serif", "Times New Roman", serif' font-weight="bold" font-size="70">NO.3</text>
<path d="M330.5,468.8 H502" stroke="#ff00ff" stroke-width="7" stroke-linecap="round"/>
<rect x="409.1" y="461.3" width="15" height="15" fill="#ff00ff"/>
<text transform="translate(519,495.2) scale(0.97,1)" font-family='"Liberation Serif", "Times New Roman", serif' font-weight="bold" font-size="70">NO.4</text>
<path d="M1426.5,91.8 H1599" stroke="#e8640a" stroke-width="7" stroke-linecap="round"/>
<rect x="1504.5" y="84.3" width="15" height="15" fill="#e8640a"/>
<text transform="translate(1615,118.8) scale(0.97,1)" font-family='"Liberation Serif", "Times New Roman", serif' font-weight="bold" font-size="70">NO.5</text>
<path d="M1426.5,188.7 H1599" stroke="#008080" stroke-width="7" stroke-linecap="round"/>
<rect x="1504.5" y="181.2" width="15" height="15" fill="#008080"/>
<text transform="translate(1615,215.7) scale(0.97,1)" font-family='"Liberation Serif", "Times New Roman", serif' font-weight="bold" font-size="70">NO.6</text>
<path d="M1426.5,285.5 H1599" stroke="#8f00ff" stroke-width="7" stroke-linecap="round"/>
<rect x="1504.5" y="278.0" width="15" height="15" fill="#8f00ff"/>
<text transform="translate(1615,312.5) scale(0.97,1)" font-family='"Liberation Serif", "Times New Roman", serif' font-weight="bold" font-size="70">NO.7</text>
<path d="M1426.5,382.0 H1599" stroke="#8b3a00" stroke-width="7" stroke-linecap="round"/>
<rect x="1504.5" y="374.5" width="15" height="15" fill="#8b3a00"/>
<text transform="translate(1615,409.0) scale(0.97,1)" font-family='"Liberation Serif", "Times New Roman", serif' font-weight="bold" font-size="70">NO.8</text>
<path d="M1426.5,478.5 H1599" stroke="#a0a0a0" stroke-width="7" stroke-linecap="round"/>
<rect x="1504.5" y="471.0" width="15" height="15" fill="#a0a0a0"/>
<text transform="translate(1615,505.5) scale(0.97,1)" font-family='"Liberation Serif", "Times New Roman", serif' font-weight="bold" font-size="70">NO.9</text>
</svg>
</body></html>
